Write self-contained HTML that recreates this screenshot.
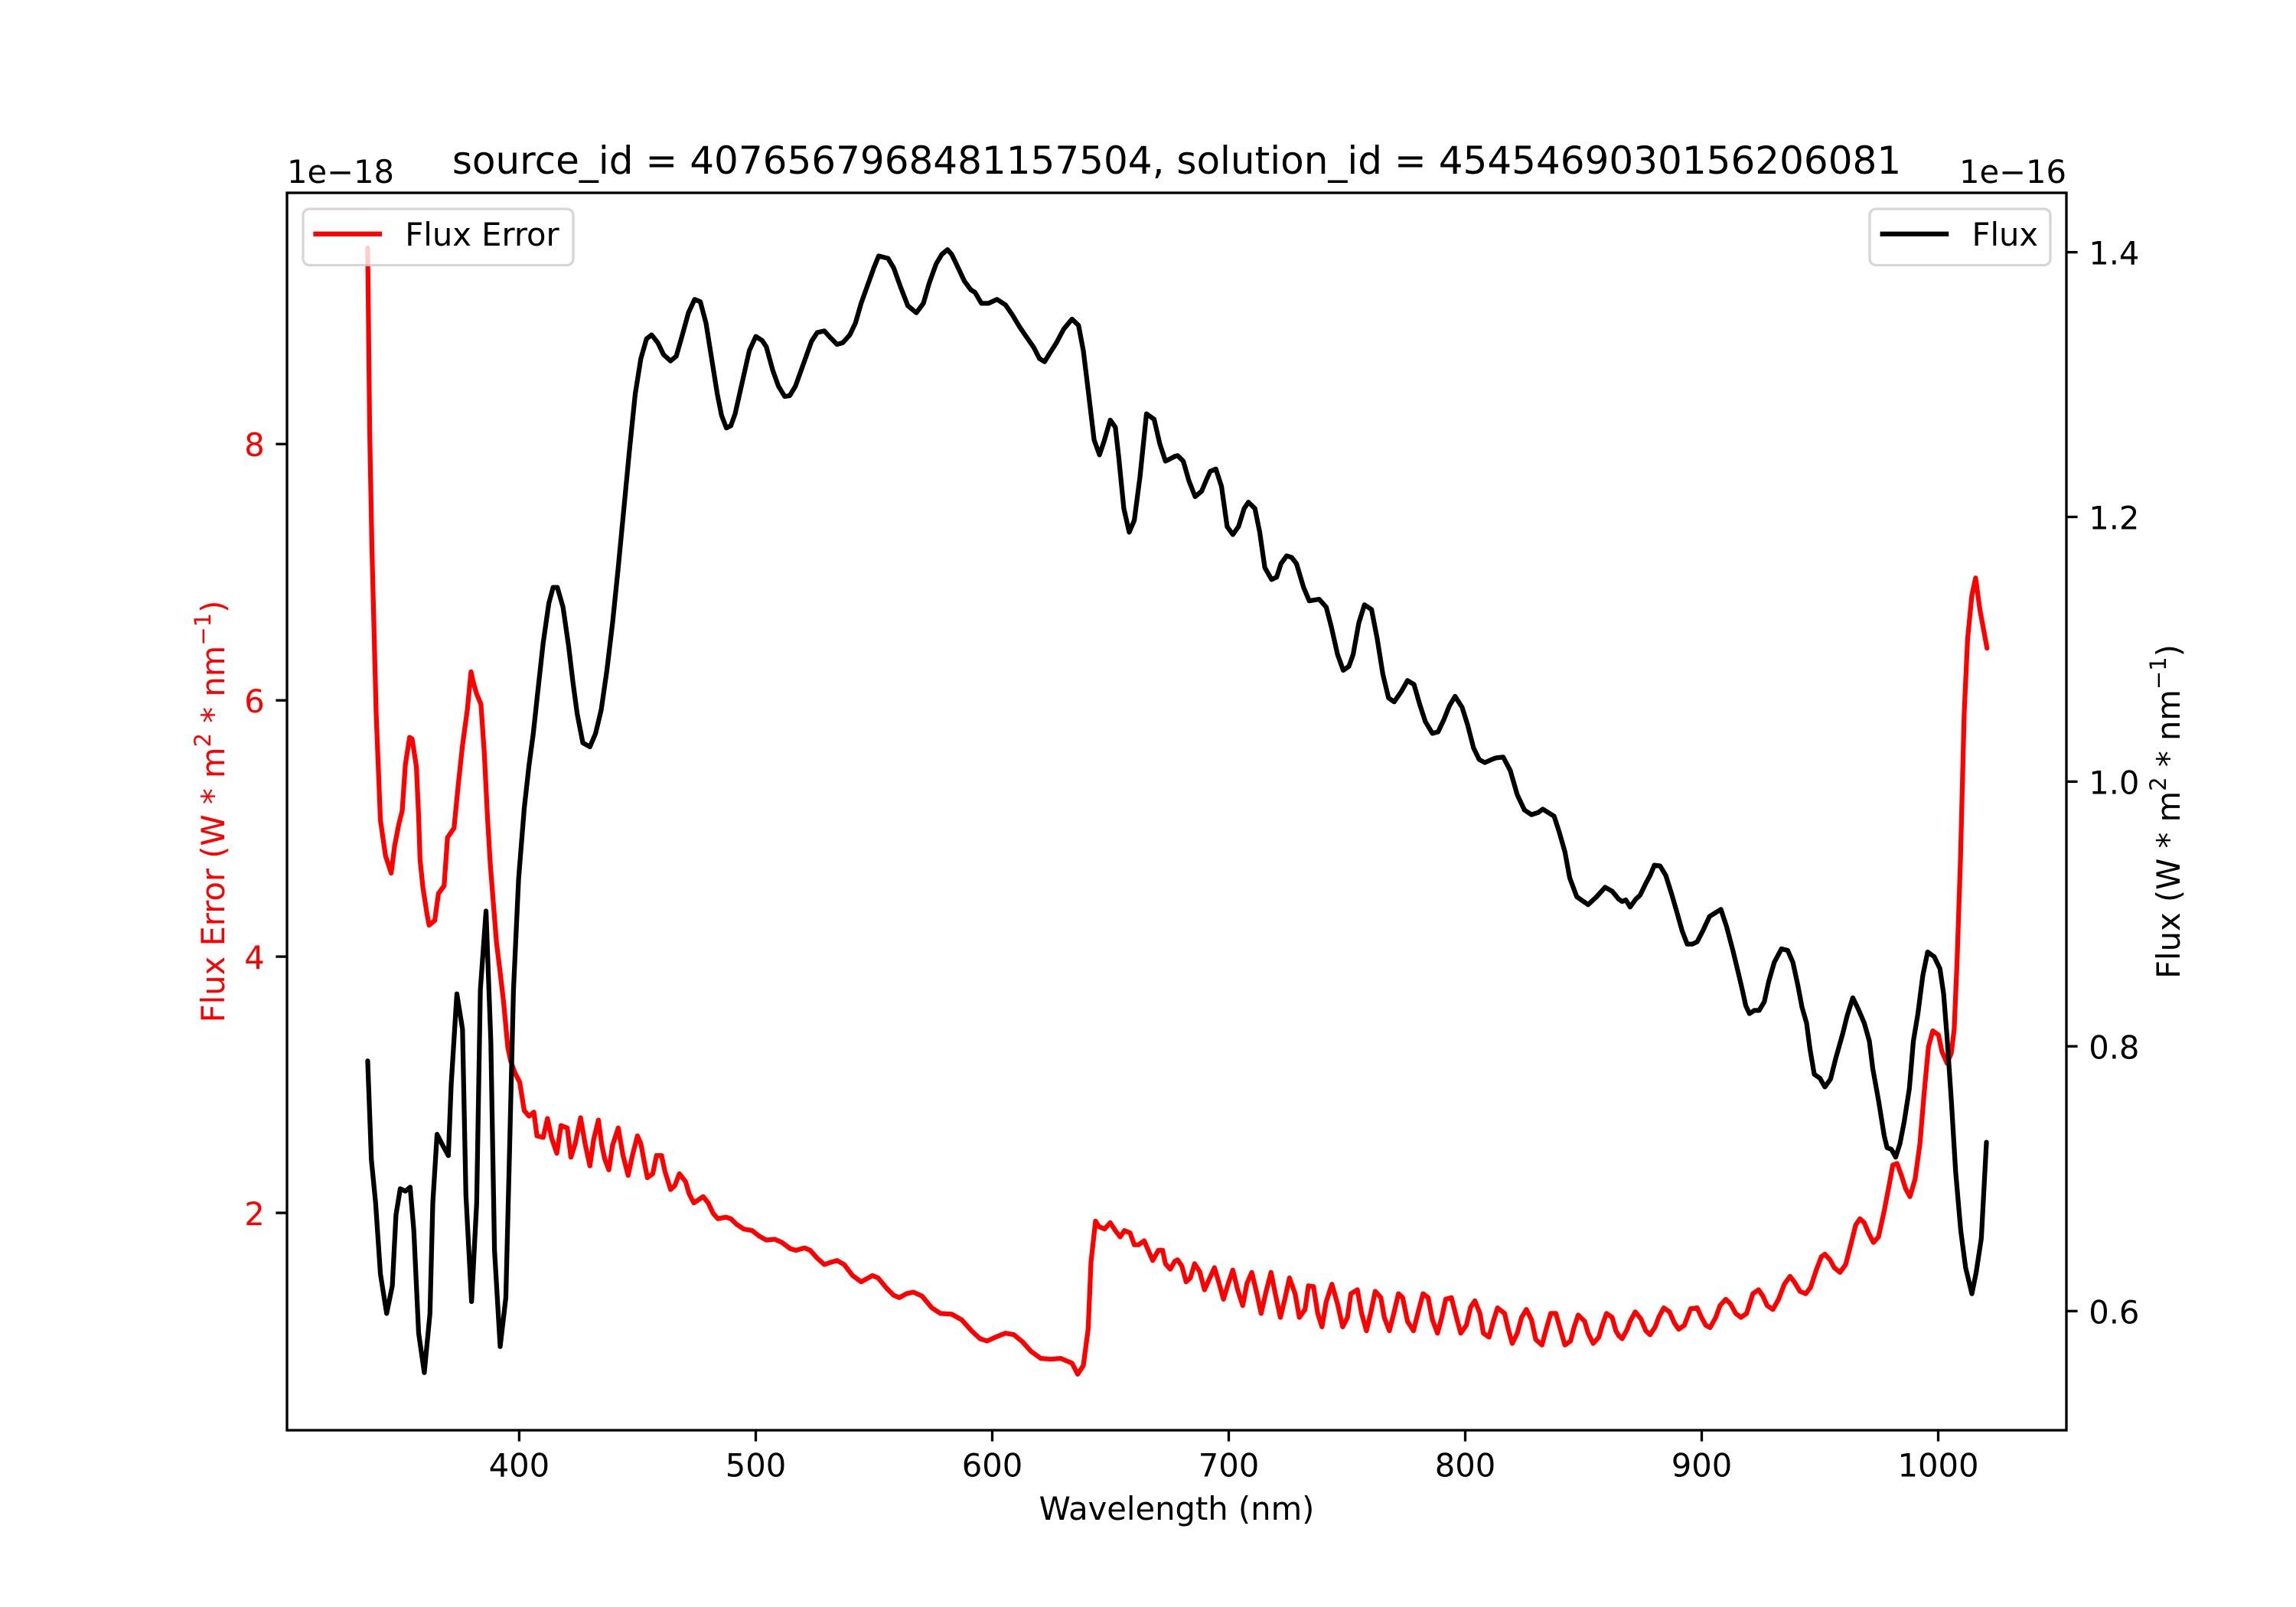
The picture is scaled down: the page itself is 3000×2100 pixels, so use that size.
<!DOCTYPE html>
<html>
<head>
<meta charset="utf-8">
<style>
  html, body { margin:0; padding:0; background:#fff; }
  body { width:3000px; height:2100px; overflow:hidden; }
  svg { display:block; }
  text { font-family: "DejaVu Sans", "Liberation Sans", sans-serif; }
</style>
</head>
<body>
<svg width="3000" height="2100" viewBox="0 0 3000 2100" xmlns="http://www.w3.org/2000/svg">
  <rect x="0" y="0" width="3000" height="2100" fill="#ffffff"/>

  <!-- Flux Error (red) -->
  <g fill="none" stroke="#ff0000" stroke-width="6.25" stroke-linejoin="round" stroke-linecap="round">
    <g transform="translate(375,252) scale(0.36990,1.03125)">
      <polyline vector-effect="non-scaling-stroke" points="285,70 292,300 300,450 315,660 330,795 348,840 368,862 380,828 395,800 407,783 418,725 433,690 442,692 457,727 465,790 470,845 480,880 495,915 502,928 522,922 535,888 555,878 567,817 590,805 605,750 620,700 637,655 650,607 658,620 670,635 685,648 697,710 708,790 718,850 730,905 740,950 752,985 765,1025 780,1083 790,1100 805,1115 822,1127 838,1163 855,1170 872,1165 883,1195 905,1197 920,1173 935,1198 953,1217 968,1182 990,1185 1003,1222 1018,1205 1037,1172 1053,1205 1070,1233 1083,1200 1100,1175 1112,1207 1123,1225 1137,1238 1150,1207 1170,1185 1187,1220 1205,1245 1220,1220 1238,1195 1250,1205 1262,1228 1273,1248 1292,1243 1305,1220 1323,1220 1335,1240 1355,1263 1370,1258 1386,1243 1408,1253 1420,1268 1437,1280 1470,1272 1488,1280 1505,1293 1522,1300 1550,1298 1568,1300"/>
    </g>
    <g transform="translate(955,252) scale(0.36990,1.03125)">
      <polyline vector-effect="non-scaling-stroke" points="0,1300 20,1307 45,1313 75,1315 100,1322 125,1327 155,1326 180,1330 210,1338 230,1340 260,1337 280,1340 305,1350 330,1358 355,1355 375,1353 400,1358 430,1372 460,1380 500,1372 520,1375 550,1388 575,1397 595,1400 620,1395 645,1393 675,1398 710,1413 740,1420 780,1421 815,1428 850,1442 880,1452 905,1455 935,1450 970,1445 1000,1447 1030,1456 1060,1468 1095,1477 1130,1478 1165,1477 1205,1483 1225,1497 1245,1486 1262,1440 1272,1355 1288,1303 1300,1310 1320,1313 1340,1305 1358,1315 1375,1323 1390,1315 1410,1318 1425,1333 1440,1333 1460,1328 1478,1343 1490,1353 1510,1340 1525,1340 1535,1357 1552,1364 1568,1354"/>
    </g>
    <g transform="translate(1535,252) scale(0.36990,1.03125)">
      <polyline vector-effect="non-scaling-stroke" points="0,1354 10,1352 25,1360 40,1380 55,1375 70,1357 88,1367 105,1390 120,1378 140,1362 155,1380 172,1402 188,1383 205,1365 222,1390 240,1410 255,1382 272,1368 290,1395 305,1420 322,1393 340,1368 355,1395 373,1425 390,1400 405,1375 425,1395 440,1425 460,1415 472,1385 490,1386 505,1420 520,1437 535,1405 555,1383 575,1408 593,1437 610,1425 622,1395 645,1390 660,1420 677,1442 693,1418 708,1392 728,1400 740,1425 758,1442 775,1418 790,1395 805,1400 822,1430 843,1442 860,1418 877,1395 895,1400 910,1428 928,1445 943,1425 957,1402 977,1400 995,1425 1010,1445 1030,1435 1045,1412 1060,1404 1078,1420 1090,1445 1110,1450 1125,1430 1140,1413 1165,1420 1178,1440 1192,1458 1210,1445 1225,1425 1242,1415 1260,1428 1275,1453 1297,1460 1312,1440 1328,1420 1346,1420 1362,1440 1378,1460 1398,1455 1410,1438 1425,1422 1448,1430 1460,1445 1478,1458 1498,1450 1510,1435 1525,1420 1545,1425 1558,1442 1568,1448"/>
    </g>
    <g transform="translate(2115,252) scale(0.37309,1.03125)">
      <polyline vector-effect="non-scaling-stroke" points="0,1448 12,1452 30,1440 40,1430 58,1418 78,1427 95,1442 110,1447 128,1437 140,1425 158,1413 178,1418 195,1432 210,1440 230,1435 252,1414 275,1413 290,1425 305,1435 320,1438 340,1425 355,1410 375,1402 392,1408 410,1420 428,1425 448,1420 470,1395 490,1390 505,1398 520,1410 540,1415 560,1402 580,1383 600,1373 615,1380 635,1392 655,1395 672,1387 692,1365 710,1348 722,1345 740,1352 755,1362 775,1368 795,1358 815,1330 830,1308 845,1300 860,1305 875,1318 892,1330 910,1323 930,1290 950,1252 960,1232 975,1230 990,1245 1005,1262 1020,1272 1038,1250 1055,1205 1070,1140 1085,1082 1100,1062 1120,1067 1132,1088 1150,1103 1165,1090 1175,1060 1185,975 1197,845 1210,660 1222,565 1237,510 1250,488 1265,528 1290,577"/>
    </g>
  </g>

  <!-- Left legend (Flux Error) -->
  <rect x="396" y="273" width="353" height="73.5" rx="8.3" ry="8.3" fill="#ffffff" fill-opacity="0.8" stroke="#cccccc" stroke-opacity="0.8" stroke-width="3.3"/>
  <line x1="412.5" y1="305.7" x2="495.9" y2="305.7" stroke="#ff0000" stroke-width="6.25" stroke-linecap="square"/>
  <text x="529.3" y="321" font-size="41.67" fill="#000">Flux Error</text>

  <!-- Flux (black) -->
  <g fill="none" stroke="#000000" stroke-width="6.25" stroke-linejoin="round" stroke-linecap="round">
    <g transform="translate(375,252) scale(0.36990,1.03125)">
      <polyline vector-effect="non-scaling-stroke" points="285,1100 298,1225 313,1280 330,1370 352,1420 372,1385 385,1295 400,1262 418,1265 435,1260 448,1315 465,1445 485,1495 505,1420 515,1280 530,1193 550,1207 570,1220 580,1130 600,1015 620,1060 632,1270 652,1405 670,1280 683,1010 703,910 720,1075 733,1340 753,1462 773,1400 785,1230 800,1010 818,870 838,780 855,725 870,685 885,635 905,570 925,520 940,500 955,500 975,525 995,575 1010,620 1025,660 1045,697 1070,702 1090,685 1110,655 1130,605 1150,545 1170,475 1190,400 1210,325 1230,255 1250,210 1270,185 1288,180 1310,190 1330,205 1355,213 1375,207 1395,182 1418,152 1440,135 1460,138 1480,165 1500,210 1520,255 1535,282 1552,298 1568,295"/>
    </g>
    <g transform="translate(955,252) scale(0.36990,1.03125)">
      <polyline vector-effect="non-scaling-stroke" points="0,295 15,280 40,240 65,200 88,182 110,187 125,195 148,225 168,245 190,258 208,257 228,245 255,218 285,188 305,177 330,175 350,183 375,192 395,190 420,180 440,165 460,140 490,110 505,95 522,80 555,83 575,95 600,120 625,143 655,152 680,140 700,115 725,90 745,78 765,72 780,78 800,93 825,112 848,123 862,126 885,140 910,140 940,135 970,142 995,155 1020,170 1045,183 1070,196 1090,210 1108,214 1125,204 1150,190 1175,173 1205,160 1228,168 1245,200 1262,250 1283,313 1302,332 1318,315 1340,288 1358,297 1370,335 1388,400 1407,430 1425,415 1445,360 1468,280 1495,287 1515,318 1535,340 1552,337 1568,334"/>
    </g>
    <g transform="translate(1535,252) scale(0.36990,1.03125)">
      <polyline vector-effect="non-scaling-stroke" points="0,334 10,333 30,340 50,365 72,385 95,378 110,365 125,353 145,350 165,372 185,423 205,433 225,423 245,400 260,392 283,400 300,430 318,475 342,490 360,487 375,470 395,460 413,462 430,470 455,500 475,517 510,515 535,525 553,550 575,585 595,605 615,600 630,585 650,545 670,522 695,528 715,565 735,610 755,640 775,645 800,632 822,618 845,623 865,648 885,670 910,685 930,683 950,668 970,650 990,638 1015,652 1035,675 1055,703 1075,718 1095,722 1120,718 1135,716 1160,715 1185,732 1210,763 1235,782 1260,788 1285,785 1300,781 1340,790 1358,810 1378,835 1395,868 1420,892 1460,902 1490,892 1520,880 1545,885 1568,895"/>
    </g>
    <g transform="translate(2115,252) scale(0.37309,1.03125)">
      <polyline vector-effect="non-scaling-stroke" points="0,895 12,898 25,896 40,905 60,895 75,890 95,875 110,865 125,852 145,853 165,865 185,888 205,913 222,935 240,952 258,952 275,949 295,935 318,917 340,912 358,908 378,930 400,960 420,990 433,1010 445,1030 458,1040 475,1036 492,1036 510,1025 525,1000 545,975 570,958 592,960 610,975 628,1005 642,1032 658,1052 670,1085 685,1117 705,1122 722,1133 742,1123 760,1097 785,1065 800,1043 820,1020 840,1035 860,1052 878,1075 890,1110 910,1150 930,1195 940,1210 955,1212 970,1222 985,1205 1000,1177 1018,1135 1032,1075 1048,1040 1065,992 1082,962 1105,968 1125,983 1138,1015 1150,1070 1165,1150 1180,1240 1198,1315 1215,1362 1237,1395 1252,1368 1270,1325 1288,1203"/>
    </g>
  </g>

  <!-- Right legend (Flux) -->
  <rect x="2443" y="273" width="236" height="73.5" rx="8.3" ry="8.3" fill="#ffffff" fill-opacity="0.8" stroke="#cccccc" stroke-opacity="0.8" stroke-width="3.3"/>
  <line x1="2459.7" y1="305.7" x2="2543.1" y2="305.7" stroke="#000000" stroke-width="6.25" stroke-linecap="square"/>
  <text x="2576.5" y="321" font-size="41.67" fill="#000">Flux</text>

  <!-- Axes frame -->
  <rect x="375" y="252" width="2325" height="1617" fill="none" stroke="#000" stroke-width="3.33"/>

  <!-- X ticks -->
  <g stroke="#000" stroke-width="3.33">
    <line x1="678.4" y1="1869" x2="678.4" y2="1883.6"/>
    <line x1="987.5" y1="1869" x2="987.5" y2="1883.6"/>
    <line x1="1296.5" y1="1869" x2="1296.5" y2="1883.6"/>
    <line x1="1605.5" y1="1869" x2="1605.5" y2="1883.6"/>
    <line x1="1914.5" y1="1869" x2="1914.5" y2="1883.6"/>
    <line x1="2223.5" y1="1869" x2="2223.5" y2="1883.6"/>
    <line x1="2532.5" y1="1869" x2="2532.5" y2="1883.6"/>
  </g>
  <g font-size="41.67" fill="#000" text-anchor="middle">
    <text x="678.4" y="1929.5">400</text>
    <text x="987.5" y="1929.5">500</text>
    <text x="1296.5" y="1929.5">600</text>
    <text x="1605.5" y="1929.5">700</text>
    <text x="1914.5" y="1929.5">800</text>
    <text x="2223.5" y="1929.5">900</text>
    <text x="2532.5" y="1929.5">1000</text>
  </g>
  <text x="1537.5" y="1986" font-size="41.67" fill="#000" text-anchor="middle">Wavelength (nm)</text>

  <!-- Left Y ticks -->
  <g stroke="#000" stroke-width="3.33">
    <line x1="360.4" y1="580.3" x2="375" y2="580.3"/>
    <line x1="360.4" y1="915.2" x2="375" y2="915.2"/>
    <line x1="360.4" y1="1250.1" x2="375" y2="1250.1"/>
    <line x1="360.4" y1="1585" x2="375" y2="1585"/>
  </g>
  <g font-size="41.67" fill="#ff0000" text-anchor="end">
    <text x="345.8" y="596">8</text>
    <text x="345.8" y="931">6</text>
    <text x="345.8" y="1266">4</text>
    <text x="345.8" y="1601">2</text>
  </g>
  <text x="375" y="239" font-size="41.67" fill="#000">1e−18</text>
  <text transform="translate(293,1060.5) rotate(-90)" text-anchor="middle" font-size="41.67" fill="#ff0000">Flux Error (W * m<tspan font-size="29" dy="-18">2</tspan><tspan dy="18"> * nm</tspan><tspan font-size="29" dy="-18">−1</tspan><tspan dy="18">)</tspan></text>

  <!-- Right Y ticks -->
  <g stroke="#000" stroke-width="3.33">
    <line x1="2700" y1="329.6" x2="2714.6" y2="329.6"/>
    <line x1="2700" y1="675.5" x2="2714.6" y2="675.5"/>
    <line x1="2700" y1="1021.4" x2="2714.6" y2="1021.4"/>
    <line x1="2700" y1="1367.3" x2="2714.6" y2="1367.3"/>
    <line x1="2700" y1="1713.3" x2="2714.6" y2="1713.3"/>
  </g>
  <g font-size="41.67" fill="#000" text-anchor="start">
    <text x="2729.2" y="345.6">1.4</text>
    <text x="2729.2" y="691.5">1.2</text>
    <text x="2729.2" y="1037.4">1.0</text>
    <text x="2729.2" y="1383.3">0.8</text>
    <text x="2729.2" y="1729.3">0.6</text>
  </g>
  <text x="2700" y="239" font-size="41.67" fill="#000" text-anchor="end">1e−16</text>
  <text transform="translate(2848,1060.5) rotate(-90)" text-anchor="middle" font-size="41.67" fill="#000">Flux (W * m<tspan font-size="29" dy="-18">2</tspan><tspan dy="18"> * nm</tspan><tspan font-size="29" dy="-18">−1</tspan><tspan dy="18">)</tspan></text>

  <!-- Title -->
  <text x="1537.5" y="227" font-size="50" fill="#000" text-anchor="middle">source_id = 4076567968481157504, solution_id = 4545469030156206081</text>
</svg>
</body>
</html>
